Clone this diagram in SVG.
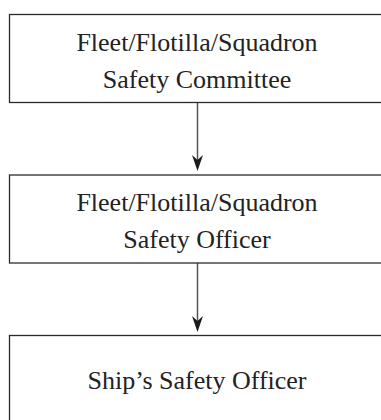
<svg xmlns="http://www.w3.org/2000/svg" width="381" height="420" viewBox="0 0 381 420">
<defs>
<style>
.box{fill:#fff;stroke:#2b2b2b;stroke-width:1.3}
.t{font-family:"Liberation Serif","Times New Roman",serif;font-size:26px;fill:#222;text-anchor:middle}
.c{stroke:#555;stroke-width:1.5;fill:none}
</style>
</defs>
<rect width="381" height="420" fill="#fff"/>
<g id="connectors">
<line class="c" x1="197.5" y1="102" x2="197.5" y2="166"/>
<path d="M197.5,171 L192,155 L197.5,160 L203,155 Z" fill="#1a1a1a"/>
<line class="c" x1="197.5" y1="263" x2="197.5" y2="327"/>
<path d="M197.5,332 L192,316 L197.5,321 L203,316 Z" fill="#1a1a1a"/>
</g>
<g id="committee">
<rect class="box" x="9.5" y="14.5" width="380" height="88"/>
<text class="t" x="197" y="51">Fleet/Flotilla/Squadron</text>
<text class="t" x="197" y="88">Safety Committee</text>
</g>
<g id="officer">
<rect class="box" x="9.5" y="175" width="380" height="88"/>
<text class="t" x="197" y="211">Fleet/Flotilla/Squadron</text>
<text class="t" x="197" y="248">Safety Officer</text>
</g>
<g id="ship">
<rect class="box" x="9.5" y="335.5" width="380" height="100"/>
<text class="t" x="197" y="389">Ship’s Safety Officer</text>
</g>
</svg>
